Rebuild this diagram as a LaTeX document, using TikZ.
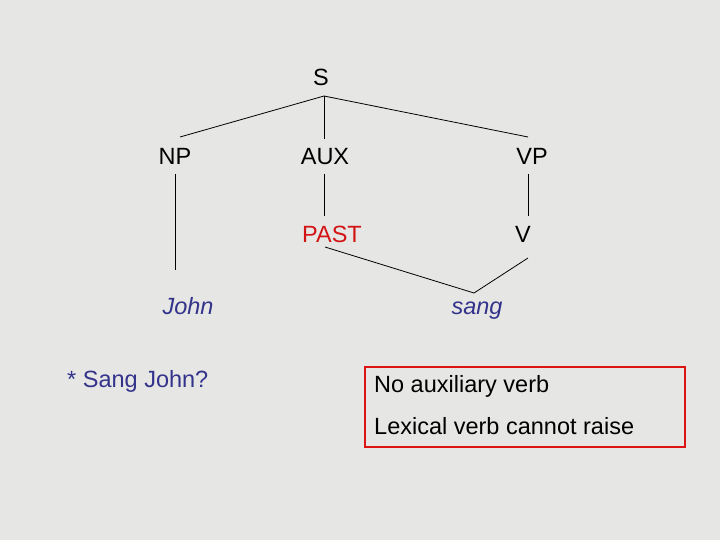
\documentclass[tikz,border=0pt]{standalone}
\usepackage{fontspec}
\setmainfont{Liberation Sans}
\definecolor{bg}{RGB}{230,230,228}
\definecolor{ink}{RGB}{51,51,140}
\definecolor{redbox}{RGB}{220,20,20}
\definecolor{pastred}{RGB}{210,20,20}
\begin{document}
\begin{tikzpicture}[x=1pt,y=-1pt,
  lab/.style={font=\fontsize{23.5}{28}\selectfont, inner sep=0pt, anchor=base},
  word/.style={lab, text=ink, font=\fontsize{23.5}{28}\selectfont\itshape},
  edge/.style={draw=black, line width=0.8pt}]
\fill[bg] (0,0) rectangle (720,540);
\useasboundingbox (0,0) rectangle (720,540);
\node[lab] (S) at (321,86) {S};
\node[lab] (NP) at (175,165) {NP};
\node[lab] (AUX) at (325,165) {AUX};
\node[lab] (VP) at (532,165) {VP};
\node[lab, text=pastred] (PAST) at (332,242) {PAST};
\node[lab] (V) at (523,242) {V};
\node[word] (John) at (188,314) {John};
\node[word] (sang) at (477,314) {sang};
\coordinate (Sb) at (324,96);
\coordinate (NPt) at (180,137);
\coordinate (AUXt) at (324,139);
\coordinate (VPt) at (528,137);
\coordinate (NPb) at (175,174);
\coordinate (Johnt) at (175,270);
\coordinate (AUXb) at (324,174);
\coordinate (PASTt) at (324,216);
\coordinate (VPb) at (528,174);
\coordinate (Vt) at (528,216);
\coordinate (PASTb) at (325,247);
\coordinate (Vb) at (528,258);
\coordinate (sangt) at (474,293);
\draw[edge] (Sb) -- (NPt);
\draw[edge] (Sb) -- (AUXt);
\draw[edge] (Sb) -- (VPt);
\draw[edge] (NPb) -- (Johnt);
\draw[edge] (AUXb) -- (PASTt);
\draw[edge] (VPb) -- (Vt);
\draw[edge] (PASTb) -- (sangt);
\draw[edge] (Vb) -- (sangt);
\node[lab, text=ink, anchor=base west] (q) at (67,387) {* Sang John?};
\draw[redbox, line width=2.8pt] (365,367) rectangle (685,447);
\node[lab, anchor=base west] (t1) at (374,392) {No auxiliary verb};
\node[lab, anchor=base west] (t2) at (374,434) {Lexical verb cannot raise};
\end{tikzpicture}
\end{document}
